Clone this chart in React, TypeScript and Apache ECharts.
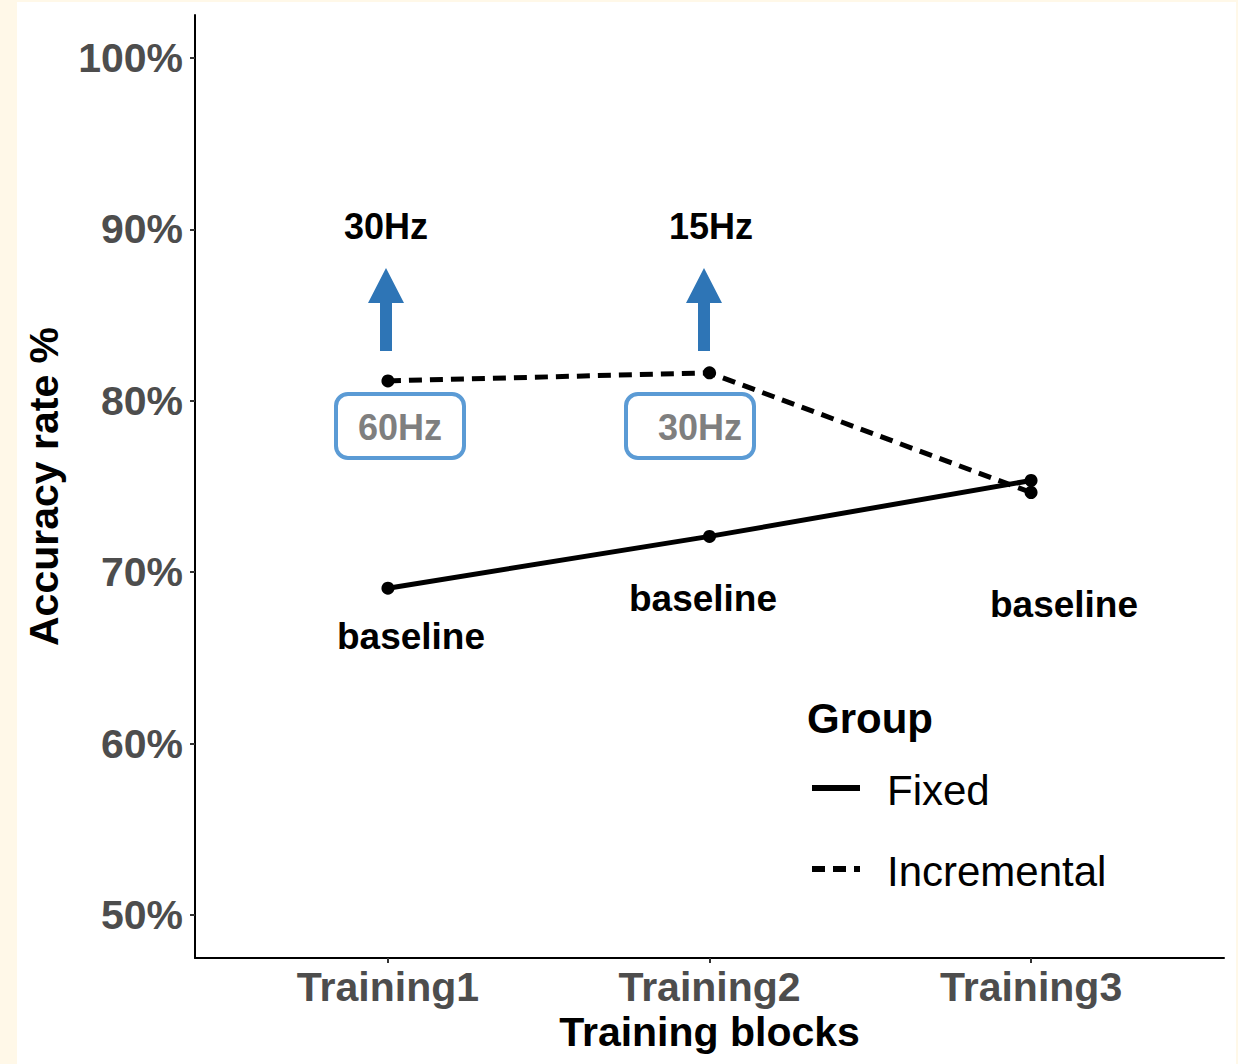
import React, { useEffect, useRef } from "react";
import * as echarts from "echarts";

const categories = ["Training1", "Training2", "Training3"];
const fixedValues = [69.07, 72.09, 75.35];
const incrementalValues = [81.16, 81.63, 74.65];
const yTicks = [50, 60, 70, 80, 90, 100];
const xTicks = [1, 2, 3];

const FONT = "'Liberation Sans', Arial, Helvetica, sans-serif";

export default function App() {
  const ref = useRef<HTMLDivElement>(null);
  useEffect(() => {
    if (!ref.current) return;
    const chart = echarts.init(ref.current, null, { renderer: "svg" });
    const arrow = (cx: number) => ({
      type: "polygon",
      silent: true,
      shape: {
        points: [
          [cx, 268],
          [cx + 18, 303],
          [cx + 6, 303],
          [cx + 6, 351],
          [cx - 6, 351],
          [cx - 6, 303],
          [cx - 18, 303],
        ],
      },
      style: { fill: "#2E75B6" },
    });
    const txt = (x: number, y: number, text: string, size: number, weight: string, color: string, align = "center") => ({
      type: "text",
      silent: true,
      x,
      y,
      style: {
        text,
        fontSize: size,
        fontWeight: weight,
        fontFamily: FONT,
        fill: color,
        align,
        verticalAlign: "middle",
      },
    });
    const box = (x: number) => ({
      type: "rect",
      silent: true,
      shape: { x, y: 394, width: 128, height: 64, r: 12 },
      style: { fill: "none", stroke: "#5B9BD5", lineWidth: 4 },
    });
    chart.setOption({
      animation: false,
      backgroundColor: "#FFF8E8",
      grid: {
        left: 195,
        right: 14,
        top: 15,
        bottom: 106,
        containLabel: false,
        outerBoundsMode: "none",
      },
      xAxis: {
        type: "value",
        min: 0.4,
        max: 3.6,
        name: "Training blocks",
        nameLocation: "middle",
        nameGap: 52,
        nameTextStyle: { fontSize: 41, fontWeight: "bold", color: "#000", fontFamily: FONT },
        axisLine: { show: true, onZero: false, lineStyle: { color: "#000", width: 2 } },
        axisTick: { show: true, customValues: xTicks, length: 5, lineStyle: { color: "#333", width: 2 } },
        axisLabel: {
          customValues: xTicks,
          formatter: (v: number) => categories[Math.round(v) - 1] ?? "",
          fontSize: 41,
          fontWeight: "bold",
          color: "#4D4D4D",
          fontFamily: FONT,
          margin: 8,
        },
        splitLine: { show: false },
      },
      yAxis: {
        type: "value",
        min: 47.5,
        max: 102.5,
        name: "Accuracy rate %",
        nameLocation: "middle",
        nameGap: 131,
        nameRotate: 90,
        nameTextStyle: { fontSize: 41, fontWeight: "bold", color: "#000", fontFamily: FONT },
        axisLine: { show: true, onZero: false, lineStyle: { color: "#000", width: 2 } },
        axisTick: { show: true, customValues: yTicks, length: 5, lineStyle: { color: "#333", width: 2 } },
        axisLabel: {
          customValues: yTicks,
          formatter: (v: number) => `${v}%`,
          fontSize: 41,
          fontWeight: "bold",
          color: "#4D4D4D",
          fontFamily: FONT,
          margin: 12,
        },
        splitLine: { show: false },
      },
      series: [
        {
          name: "Fixed",
          type: "line",
          data: fixedValues.map((v, i) => [xTicks[i], v]),
          symbol: "circle",
          symbolSize: 13,
          itemStyle: { color: "#000" },
          lineStyle: { color: "#000", width: 5, type: "solid" },
          z: 3,
        },
        {
          name: "Incremental",
          type: "line",
          data: incrementalValues.map((v, i) => [xTicks[i], v]),
          symbol: "circle",
          symbolSize: 13,
          itemStyle: { color: "#000" },
          lineStyle: { color: "#000", width: 5, type: [13, 8] },
          z: 3,
        },
      ],
      graphic: [
        {
          type: "rect",
          silent: true,
          z: -100,
          shape: { x: 17, y: 2, width: 1219, height: 1062 },
          style: { fill: "#FFFFFF" },
        },
        arrow(386),
        arrow(704),
        txt(386, 226, "30Hz", 36, "bold", "#000"),
        txt(711, 226, "15Hz", 36, "bold", "#000"),
        box(336),
        box(626),
        txt(400, 427, "60Hz", 36, "bold", "#7F7F7F"),
        txt(700, 427, "30Hz", 36, "bold", "#7F7F7F"),
        txt(411, 636, "baseline", 37, "bold", "#000"),
        txt(703, 598, "baseline", 37, "bold", "#000"),
        txt(1064, 604, "baseline", 37, "bold", "#000"),
        txt(807, 718, "Group", 42, "bold", "#000", "left"),
        {
          type: "line",
          silent: true,
          shape: { x1: 812, y1: 788, x2: 860, y2: 788 },
          style: { stroke: "#000", lineWidth: 6 },
        },
        {
          type: "line",
          silent: true,
          shape: { x1: 812, y1: 869, x2: 860, y2: 869 },
          style: { stroke: "#000", lineWidth: 6, lineDash: [13, 8] },
        },
        txt(887, 790, "Fixed", 42, "normal", "#000", "left"),
        txt(887, 871, "Incremental", 42, "normal", "#000", "left"),
      ],
    });
    return () => chart.dispose();
  }, []);
  return (
    <div
      ref={ref}
      style={{ position: "absolute", left: 0, top: 0, width: 1238, height: 1064 }}
    />
  );
}
